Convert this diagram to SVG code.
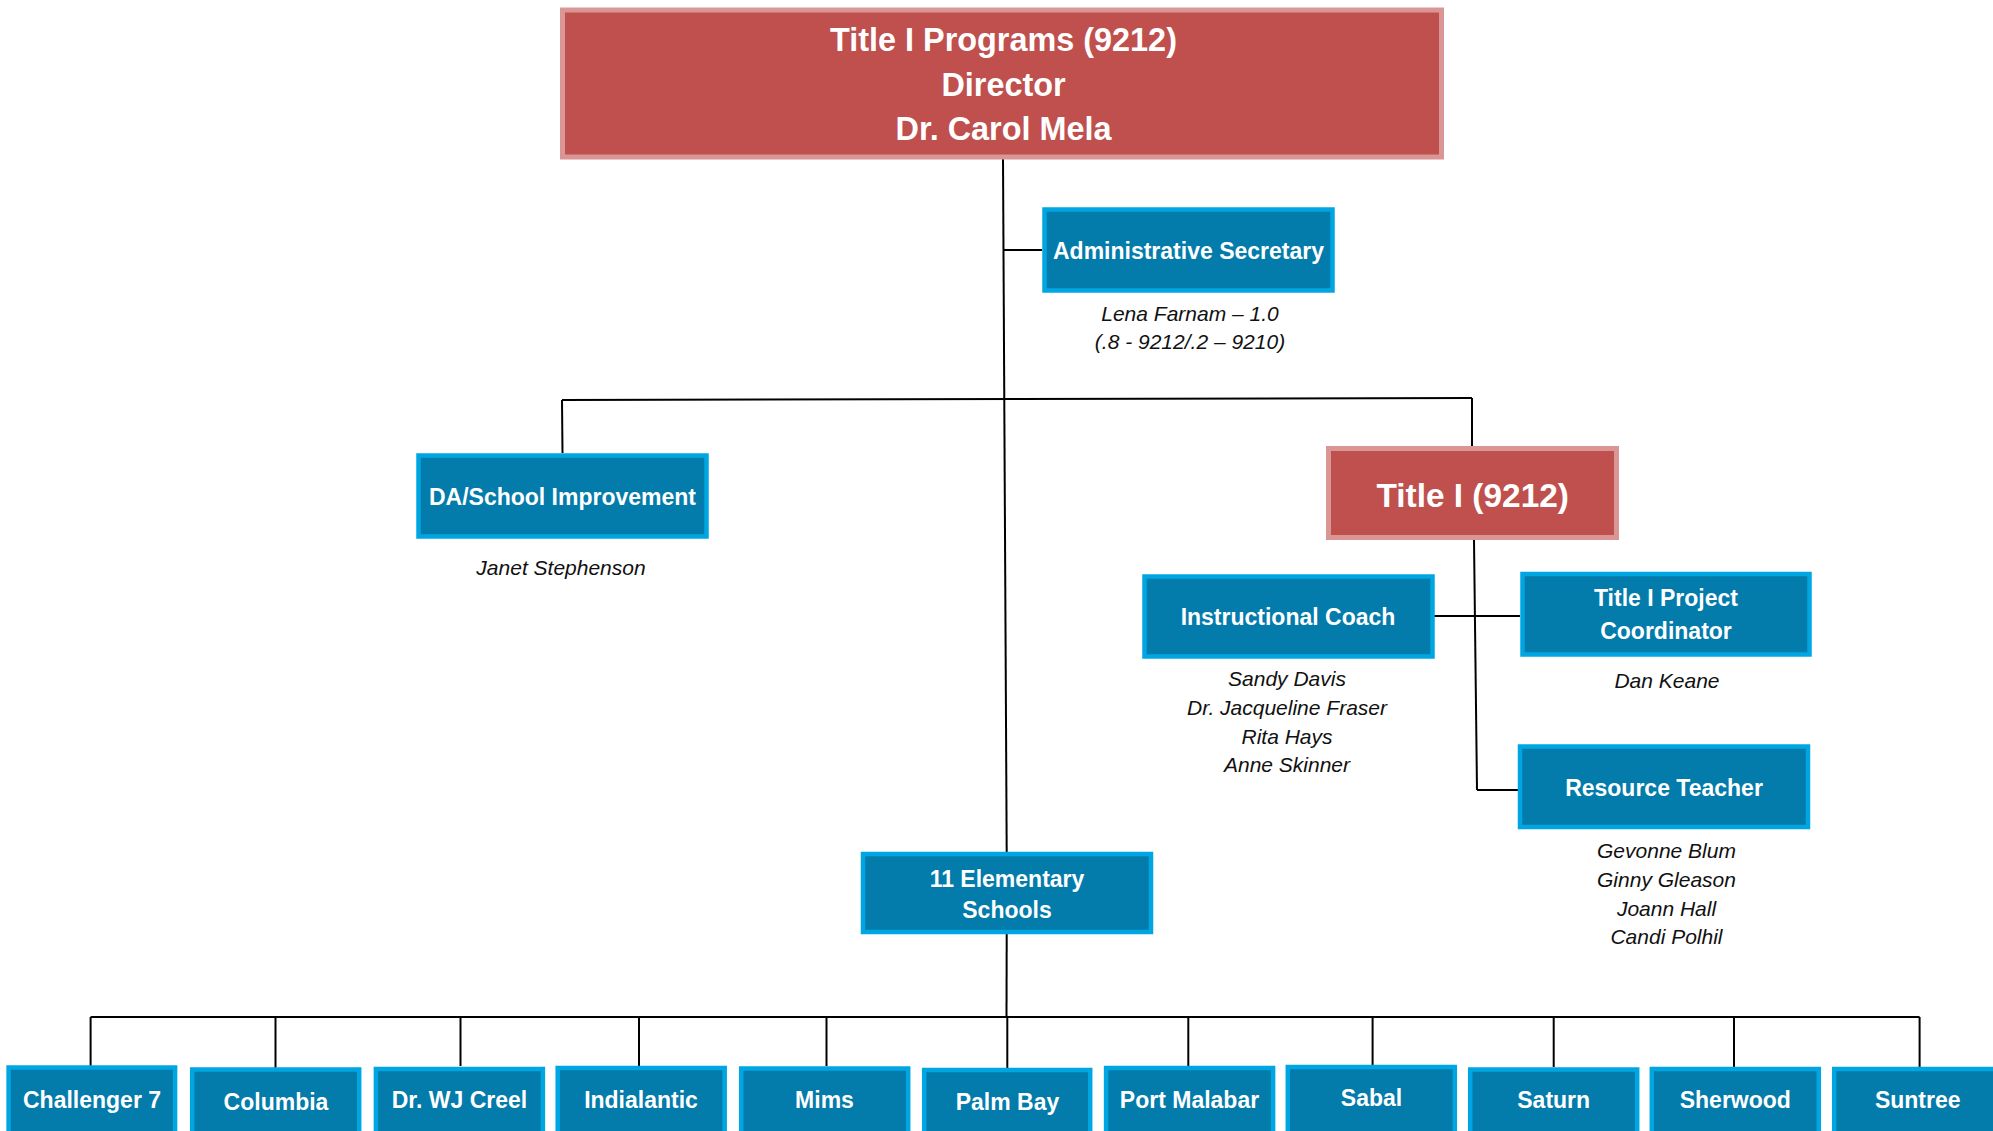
<svg xmlns="http://www.w3.org/2000/svg" width="1993" height="1131" viewBox="0 0 1993 1131">
<style>
.red{fill:#C0504D;stroke:#D99694;stroke-width:5}
.blue{fill:#037BAB;stroke:#00A6E2;stroke-width:4.5}
.lbl{font-family:"Liberation Sans",Arial,sans-serif;font-weight:bold;fill:#fff;text-anchor:middle;font-size:23px}
.big{font-size:32.4px}
.t1{font-size:33.4px}
.nm{font-family:"Liberation Sans",Arial,sans-serif;font-style:italic;fill:#111;text-anchor:middle;font-size:21px}
.ln{stroke:#000;stroke-width:2;fill:none}
</style>
<rect width="1993" height="1131" fill="#fff"/>
<g id="connectors">
<line class="ln" x1="1003" y1="159" x2="1006.7" y2="852"/>
<line class="ln" x1="1003.5" y1="250" x2="1042" y2="250"/>
<line class="ln" x1="562" y1="400" x2="1472" y2="398"/>
<line class="ln" x1="562" y1="400" x2="562.5" y2="453"/>
<line class="ln" x1="1472" y1="398" x2="1472" y2="447"/>
<line class="ln" x1="1474" y1="540" x2="1477" y2="790"/>
<line class="ln" x1="1434" y1="616" x2="1520" y2="616"/>
<line class="ln" x1="1477" y1="790" x2="1518" y2="790"/>
<line class="ln" x1="1006.7" y1="934" x2="1006.5" y2="1017"/>
<line class="ln" x1="90.6" y1="1017" x2="1919.6" y2="1017" stroke-width="2.5"/>
<line class="ln" x1="90.6" y1="1017" x2="90.6" y2="1066"/>
<line class="ln" x1="275.5" y1="1017" x2="275.5" y2="1068"/>
<line class="ln" x1="460.5" y1="1017" x2="460.5" y2="1066"/>
<line class="ln" x1="639" y1="1017" x2="639" y2="1067"/>
<line class="ln" x1="826.5" y1="1017" x2="826.5" y2="1066"/>
<line class="ln" x1="1007.3" y1="1017" x2="1007.3" y2="1068"/>
<line class="ln" x1="1188.3" y1="1017" x2="1188.3" y2="1066"/>
<line class="ln" x1="1372.6" y1="1017" x2="1372.6" y2="1065"/>
<line class="ln" x1="1553.7" y1="1017" x2="1553.7" y2="1067"/>
<line class="ln" x1="1734" y1="1017" x2="1734" y2="1067"/>
<line class="ln" x1="1919.6" y1="1017" x2="1919.6" y2="1067"/>
</g>
<g id="director">
<rect class="red" x="562.5" y="10" width="879" height="147"/>
<text class="lbl big" x="1003.5" y="40" dy="0.35em">Title I Programs (9212)</text>
<text class="lbl big" x="1003.5" y="85" dy="0.35em">Director</text>
<text class="lbl big" x="1003.5" y="129" dy="0.35em">Dr. Carol Mela</text>
</g>
<g id="admin-secretary">
<rect class="blue" x="1044.5" y="209.5" width="288" height="81"/>
<text class="lbl" x="1188.5" y="251" dy="0.35em">Administrative Secretary</text>
<text class="nm" x="1190" y="314" dy="0.35em">Lena Farnam – 1.0</text>
<text class="nm" x="1190" y="342" dy="0.35em">(.8 - 9212/.2 – 9210)</text>
</g>
<g id="da-school-improvement">
<rect class="blue" x="418.5" y="455.5" width="288" height="81"/>
<text class="lbl" x="562.5" y="497" dy="0.35em">DA/School Improvement</text>
<text class="nm" x="561" y="568" dy="0.35em">Janet Stephenson</text>
</g>
<g id="title1">
<rect class="red" x="1328.5" y="448.5" width="288" height="89"/>
<text class="lbl t1" x="1472.7" y="495" dy="0.35em">Title I (9212)</text>
</g>
<g id="instructional-coach">
<rect class="blue" x="1144.5" y="576.5" width="288" height="80"/>
<text class="lbl" x="1288" y="617" dy="0.35em">Instructional Coach</text>
<text class="nm" x="1287" y="679" dy="0.35em">Sandy Davis</text>
<text class="nm" x="1287" y="708" dy="0.35em">Dr. Jacqueline Fraser</text>
<text class="nm" x="1287" y="737" dy="0.35em">Rita Hays</text>
<text class="nm" x="1287" y="765" dy="0.35em">Anne Skinner</text>
</g>
<g id="project-coordinator">
<rect class="blue" x="1522.5" y="574" width="287" height="80.5"/>
<text class="lbl" x="1666" y="598" dy="0.35em">Title I Project</text>
<text class="lbl" x="1666" y="631" dy="0.35em">Coordinator</text>
<text class="nm" x="1667" y="681" dy="0.35em">Dan Keane</text>
</g>
<g id="resource-teacher">
<rect class="blue" x="1520" y="746.5" width="288" height="80.5"/>
<text class="lbl" x="1664" y="788" dy="0.35em">Resource Teacher</text>
<text class="nm" x="1666.5" y="851" dy="0.35em">Gevonne Blum</text>
<text class="nm" x="1666.5" y="880" dy="0.35em">Ginny Gleason</text>
<text class="nm" x="1666.5" y="909" dy="0.35em">Joann Hall</text>
<text class="nm" x="1666.5" y="937" dy="0.35em">Candi Polhil</text>
</g>
<g id="elementary-schools">
<rect class="blue" x="863" y="854" width="288" height="78"/>
<text class="lbl" x="1007" y="878.5" dy="0.35em">11 Elementary</text>
<text class="lbl" x="1007" y="910" dy="0.35em">Schools</text>
</g>
<g id="school-challenger7"><rect class="blue" x="8.6" y="1067.5" width="166.5" height="80"/><text class="lbl" x="92" y="1100" dy="0.35em">Challenger 7</text></g>
<g id="school-columbia"><rect class="blue" x="192.2" y="1069.5" width="167" height="80"/><text class="lbl" x="276" y="1101.5" dy="0.35em">Columbia</text></g>
<g id="school-creel"><rect class="blue" x="375.9" y="1069" width="167" height="80"/><text class="lbl" x="459.5" y="1100" dy="0.35em">Dr. WJ Creel</text></g>
<g id="school-indialantic"><rect class="blue" x="557.7" y="1068" width="167" height="80"/><text class="lbl" x="641" y="1100" dy="0.35em">Indialantic</text></g>
<g id="school-mims"><rect class="blue" x="741.2" y="1068.5" width="167" height="80"/><text class="lbl" x="824.5" y="1100" dy="0.35em">Mims</text></g>
<g id="school-palmbay"><rect class="blue" x="924.2" y="1070" width="166" height="80"/><text class="lbl" x="1007.5" y="1101.5" dy="0.35em">Palm Bay</text></g>
<g id="school-portmalabar"><rect class="blue" x="1106.1" y="1068" width="167" height="80"/><text class="lbl" x="1189.5" y="1100" dy="0.35em">Port Malabar</text></g>
<g id="school-sabal"><rect class="blue" x="1287.8" y="1067" width="167" height="80"/><text class="lbl" x="1371.5" y="1098" dy="0.35em">Sabal</text></g>
<g id="school-saturn"><rect class="blue" x="1470.2" y="1069.5" width="167" height="80"/><text class="lbl" x="1553.7" y="1100" dy="0.35em">Saturn</text></g>
<g id="school-sherwood"><rect class="blue" x="1651.8" y="1069" width="167" height="80"/><text class="lbl" x="1735.3" y="1100" dy="0.35em">Sherwood</text></g>
<g id="school-suntree"><rect class="blue" x="1834.2" y="1069" width="167" height="80"/><text class="lbl" x="1917.7" y="1100" dy="0.35em">Suntree</text></g>
</svg>
